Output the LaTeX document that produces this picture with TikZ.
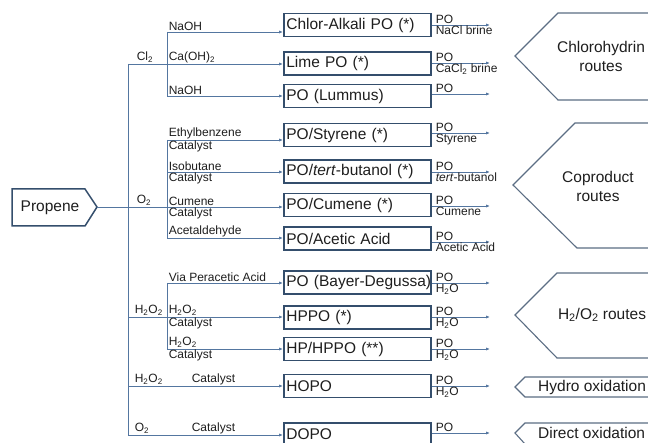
\documentclass[tikz,border=0pt]{standalone}
\usepackage{fontspec}
\setmainfont{Liberation Sans}
\usetikzlibrary{arrows.meta}
\definecolor{conn}{RGB}{84,118,160}
\definecolor{boxc}{RGB}{52,78,108}
\definecolor{hexc}{RGB}{92,110,132}
\definecolor{txt}{RGB}{30,30,30}
\tikzset{
 line/.style={draw=conn, line width=0.9pt},
 arr/.style={line, -{Latex[length=4pt,width=3.2pt]}},
 procbox/.style={draw=boxc, line width=1.7pt, fill=white, minimum height=23pt, text width=142pt, inner xsep=2.5pt, inner ysep=0pt, align=left, anchor=west, font=\fontsize{15.5}{18}\selectfont, text=txt},
 lab/.style={font=\fontsize{12}{13}\selectfont, inner sep=0.6pt, text=txt},
 ab/.style={lab, anchor=south west},
 be/.style={lab, anchor=north west},
 big/.style={font=\fontsize{15.5}{19}\selectfont, text=txt, align=center},
 hexs/.style={draw=hexc, line width=1.1pt, fill=white},
}
\begin{document}
\begin{tikzpicture}[x=1pt,y=-1pt]
\useasboundingbox (0,0) rectangle (648,443);
\clip (0,0) rectangle (648,443);
\fill[white] (0,0) rectangle (648,443);

% route shapes
\draw[hexs] (660,13) -- (558,13) -- (515,56) -- (558,100) -- (660,100);
\draw[hexs] (660,123) -- (575,123) -- (513,185) -- (577,248) -- (660,248);
\draw[hexs] (660,273) -- (557,273) -- (515,315) -- (557,358) -- (660,358);
\draw[hexs] (660,377) -- (525,377) -- (515,387) -- (525,397) -- (660,397);
\draw[hexs] (660,423) -- (525,423) -- (515,433) -- (525,444) -- (660,444);
\node[big] (tchl) at (601,56) {Chlorohydrin\\routes};
\node[big] (tcop) at (598,186) {Coproduct\\routes};
\node[big] (th2) at (602,315) {H\textsubscript{2}/O\textsubscript{2} routes};
\node[big, anchor=west, inner sep=0pt] (thyd) at (538,387) {Hydro oxidation};
\node[big, anchor=west, inner sep=0pt] (tdir) at (538,433) {Direct oxidation};

% propene
\draw[draw=boxc, line width=1.5pt, fill=white] (12,189) -- (85,189) -- (97,207) -- (85,226) -- (12,226) -- cycle;
\node[font=\fontsize{15.5}{18}\selectfont, text=txt] (prop) at (50,207.5) {Propene};
\coordinate (ptip) at (97,207);

% process boxes
\node[procbox] (b1) at (283,25) {Chlor-Alkali PO (*)};
\node[procbox] (b2) at (283,63.5) {Lime PO (*)};
\node[procbox] (b3) at (283,96) {PO (Lummus)};
\node[procbox] (b4) at (283,135) {PO/Styrene (*)};
\node[procbox] (b5) at (283,171.5) {PO/\textit{tert}-butanol (*)};
\node[procbox] (b6) at (283,205) {PO/Cumene (*)};
\node[procbox] (b7) at (283,238.5) {PO/Acetic Acid};
\node[procbox] (b8) at (283,282.5) {\mbox{PO (Bayer-Degussa)}};
\node[procbox] (b9) at (283,317.5) {HPPO (*)};
\node[procbox] (b10) at (283,349) {HP/HPPO (**)};
\node[procbox] (b11) at (283,386) {HOPO};
\node[procbox] (b12) at (283,434.5) {DOPO};

% junction coordinates
\coordinate (mtop) at (128,64);
\coordinate (mbot) at (128,435);
\coordinate (c1) at (167,32);
\coordinate (c3) at (167,96);
\coordinate (o4) at (167,140);
\coordinate (o5) at (167,172);
\coordinate (o7) at (167,238);
\coordinate (h0) at (128,317);
\coordinate (h8) at (167,283);
\coordinate (h10) at (167,349);
\coordinate (m11) at (128,386);

% trunk lines
\draw[line] (mtop) -- (mbot);
\draw[line] (c1) -- (c3);
\draw[line] (o4) -- (o7);
\draw[line] (h8) -- (h10);

% inputs
\draw[arr] (c1) -- (b1.west |- c1);
\draw[arr] (mtop) -- (b2.west |- mtop);
\draw[arr] (c3) -- (b3.west |- c3);
\draw[arr] (o4) -- (b4.west |- o4);
\draw[arr] (o5) -- (b5.west |- o5);
\draw[arr] (ptip) -- (b6.west |- ptip);
\draw[arr] (o7) -- (b7.west |- o7);
\draw[arr] (h8) -- (b8.west |- h8);
\draw[arr] (h0) -- (b9.west |- h0);
\draw[arr] (h10) -- (b10.west |- h10);
\draw[arr] (m11) -- (b11.west |- m11);
\draw[arr] (mbot) -- (b12.west |- mbot);

% left labels
\node[ab] (l1) at (168,31.5) {NaOH};
\node[ab] (lcl) at (136,63.5) {Cl\textsubscript{2}};
\node[ab] (l2) at (168,63.5) {Ca(OH)\textsubscript{2}};
\node[ab] (l3) at (168,95.5) {NaOH};
\node[ab] (l4a) at (168,139.5) {Ethylbenzene};
\node[be] (l4b) at (168,140.5) {Catalyst};
\node[ab] (l5a) at (168,171.5) {Isobutane};
\node[be] (l5b) at (168,172.5) {Catalyst};
\node[ab] (lo2) at (136,206.5) {O\textsubscript{2}};
\node[ab] (l6a) at (168,206.5) {Cumene};
\node[be] (l6b) at (168,207.5) {Catalyst};
\node[ab] (l7) at (168,237.5) {Acetaldehyde};
\node[ab] (l8) at (168,282.5) {Via Peracetic Acid};
\node[ab] (lh) at (134,316.5) {H\textsubscript{2}O\textsubscript{2}};
\node[ab] (l9a) at (168,316.5) {H\textsubscript{2}O\textsubscript{2}};
\node[be] (l9b) at (168,317.5) {Catalyst};
\node[ab] (l10a) at (168,348.5) {H\textsubscript{2}O\textsubscript{2}};
\node[be] (l10b) at (168,349.5) {Catalyst};
\node[ab] (l11a) at (134,385.5) {H\textsubscript{2}O\textsubscript{2}};
\node[ab] (l11b) at (191,385.5) {Catalyst};
\node[ab] (l12a) at (134,434.5) {O\textsubscript{2}};
\node[ab] (l12b) at (191,434.5) {Catalyst};

% outputs
\coordinate (e1) at (490,25);
\coordinate (e2) at (490,63);
\coordinate (e3) at (490,94);
\coordinate (e4) at (490,133);
\coordinate (e5) at (490,172);
\coordinate (e6) at (490,206);
\coordinate (e7) at (490,242);
\coordinate (e8) at (490,283);
\coordinate (e9) at (490,317);
\coordinate (e10) at (490,349);
\coordinate (e11) at (490,386);
\coordinate (e12) at (490,433);
\foreach \i in {1,...,12}{\draw[arr] (b\i.east |- e\i) -- (e\i);}

\node[ab] (r1a) at (435,24.5) {PO};
\node[be] (r1b) at (435,25.5) {NaCl brine};
\node[ab] (r2a) at (435,62.5) {PO};
\node[be] (r2b) at (435,63.5) {CaCl\textsubscript{2} brine};
\node[ab] (r3a) at (435,93.5) {PO};
\node[ab] (r4a) at (435,132.5) {PO};
\node[be] (r4b) at (435,133.5) {Styrene};
\node[ab] (r5a) at (435,171.5) {PO};
\node[be] (r5b) at (435,172.5) {\textit{tert}-butanol};
\node[ab] (r6a) at (435,205.5) {PO};
\node[be] (r6b) at (435,206.5) {Cumene};
\node[ab] (r7a) at (435,241.5) {PO};
\node[be] (r7b) at (435,242.5) {Acetic Acid};
\node[ab] (r8a) at (435,282.5) {PO};
\node[be] (r8b) at (435,283.5) {H\textsubscript{2}O};
\node[ab] (r9a) at (435,316.5) {PO};
\node[be] (r9b) at (435,317.5) {H\textsubscript{2}O};
\node[ab] (r10a) at (435,348.5) {PO};
\node[be] (r10b) at (435,349.5) {H\textsubscript{2}O};
\node[ab] (r11a) at (435,385.5) {PO};
\node[be] (r11b) at (435,386.5) {H\textsubscript{2}O};
\node[ab] (r12a) at (435,432.5) {PO};
\end{tikzpicture}
\end{document}
